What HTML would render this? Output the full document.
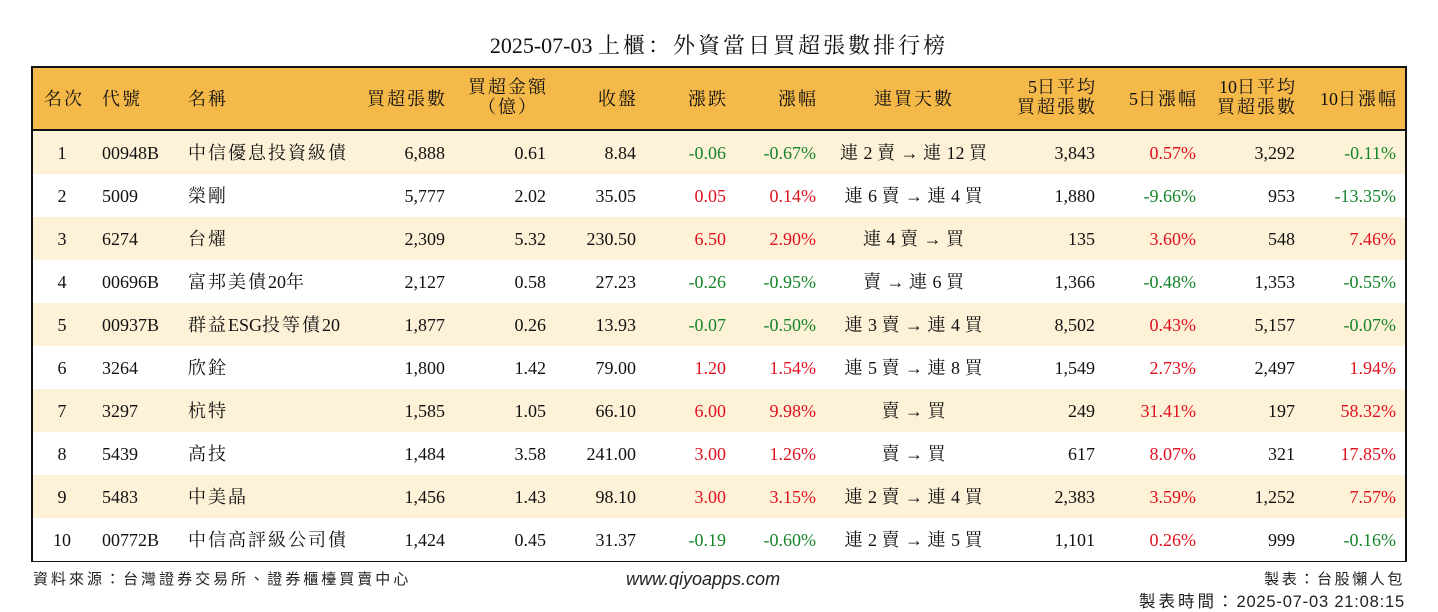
<!DOCTYPE html>
<html><head><meta charset="utf-8"><style>
body{margin:0;width:1438px;height:612px;background:#fff;position:relative;overflow:hidden;font-family:"Liberation Serif","Noto Serif CJK SC",serif;color:#111}
.t{position:absolute;white-space:nowrap;font-size:18px;line-height:20px}
#title{position:absolute;left:0;width:1438px;top:29px;text-align:center;font-size:22px}
#tbl{position:absolute;left:31px;top:66px;width:1372px;height:492px;border:2px solid #111}
#hdr{position:absolute;left:0;top:0;width:1372px;height:61px;background:#F5B94A;border-bottom:2px solid #111}
.row{position:absolute;left:0;width:1372px;height:43px}
.foot{position:absolute;font-family:"Liberation Sans","Noto Sans CJK TC",sans-serif;font-size:15px;white-space:nowrap;color:#222}
</style></head><body>
<div id="title">2025-07-03 上櫃：外資當日買超張數排行榜</div>
<div id="tbl">
<div id="hdr"></div>
</div>
<div class="foot" id="f1" style="left:33px;top:568px">資料來源：台灣證券交易所、證券櫃檯買賣中心</div>
<div class="foot" style="left:626px;top:569px;font-style:italic;font-size:18px;font-family:'Liberation Sans',sans-serif">www.qiyoapps.com</div>
<div class="foot" id="f2" style="right:33px;top:568px">製表：台股懶人包</div>
<div class="foot" id="f3" style="right:33px;top:588px;font-size:16.5px;letter-spacing:0.8px">製表時間：2025-07-03 21:08:15</div>
<script>
const ranks=["1","2","3","4","5","6","7","8","9","10"];
const codes=["00948B","5009","6274","00696B","00937B","3264","3297","5439","5483","00772B"];
const names=["中信優息投資級債","榮剛","台燿","富邦美債20年","群益ESG投等債20","欣銓","杭特","高技","中美晶","中信高評級公司債"];
const netBuy=["6,888","5,777","2,309","2,127","1,877","1,800","1,585","1,484","1,456","1,424"];
const amount=["0.61","2.02","5.32","0.58","0.26","1.42","1.05","3.58","1.43","0.45"];
const closes=["8.84","35.05","230.50","27.23","13.93","79.00","66.10","241.00","98.10","31.37"];
const changes=["-0.06","0.05","6.50","-0.26","-0.07","1.20","6.00","3.00","3.00","-0.19"];
const pcts=["-0.67%","0.14%","2.90%","-0.95%","-0.50%","1.54%","9.98%","1.26%","3.15%","-0.60%"];
const streaks=["連 2 賣 → 連 12 買","連 6 賣 → 連 4 買","連 4 賣 → 買","賣 → 連 6 買","連 3 賣 → 連 4 買","連 5 賣 → 連 8 買","賣 → 買","賣 → 買","連 2 賣 → 連 4 買","連 2 賣 → 連 5 買"];
const avg5=["3,843","1,880","135","1,366","8,502","1,549","249","617","2,383","1,101"];
const pct5=["0.57%","-9.66%","3.60%","-0.48%","0.43%","2.73%","31.41%","8.07%","3.59%","0.26%"];
const avg10=["3,292","953","548","1,353","5,157","2,497","197","321","1,252","999"];
const pct10=["-0.11%","-13.35%","7.46%","-0.55%","-0.07%","1.94%","58.32%","17.85%","7.57%","-0.16%"];
const isCJK=c=>/[\u2000-\u206f\u3000-\u9fff\uff00-\uffef]/.test(c);
function fill(el,text,ls){
  el.textContent='';
  for(const c of text){
    if(ls&&isCJK(c)){const s=document.createElement('span');s.style.letterSpacing=ls+'px';s.textContent=c;el.appendChild(s);}
    else el.appendChild(document.createTextNode(c));
  }
}
fill(document.getElementById('title'),document.getElementById('title').textContent,3);
fill(document.getElementById('f1'),document.getElementById('f1').textContent,3);
fill(document.getElementById('f2'),document.getElementById('f2').textContent,2.6);
fill(document.getElementById('f3'),document.getElementById('f3').textContent,3);
const tbl=document.getElementById('tbl');
const RED='#e0101e',GREEN='#15852a';
function col(v){return v.trim().startsWith('-')?GREEN:RED;}
function put(parent,text,x,y,align,color,name,ls){
  const d=document.createElement('div');d.className='t';
  fill(d,text,ls);
  
  
  d.style.top=y+'px';
  if(align==='r'){d.style.right=(1372-x-(ls||0))+'px';}
  else if(align==='c'){d.style.left=(x-150)+'px';d.style.width='300px';d.style.textAlign='center';}
  else d.style.left=x+'px';
  if(color)d.style.color=color;
  parent.appendChild(d);return d;
}
const hdr=document.getElementById('hdr');
const H=[["名次",11,21,'l'],["代號",69,21,'l'],["名稱",155,21,'l'],["買超張數",412,21,'r'],["收盤",603,21,'r'],["漲跌",693,21,'r'],["漲幅",783,21,'r'],["連買天數",881,21,'c'],["5日漲幅",1163,21,'r'],["10日漲幅",1363,21,'r']];
H.forEach(h=>put(hdr,h[0],h[1],h[2],h[3],null,'header-label',2));
put(hdr,"買超金額",475,9,'c',null,'header-label',2);
put(hdr,"（億）",475,29,'c',null,'header-label',2);
put(hdr,"5日平均",1062,9,'r',null,'header-label',2);
put(hdr,"買超張數",1062,29,'r',null,'header-label',2);
put(hdr,"10日平均",1262,9,'r',null,'header-label',2);
put(hdr,"買超張數",1262,29,'r',null,'header-label',2);
ranks.forEach((r,i)=>{
  const row=document.createElement('div');row.className='row';
  
  
  row.style.top=(63+i*43)+'px';
  row.style.background=i%2===0?'#FDF1D7':'#fff';
  tbl.appendChild(row);
  const y=12;
  put(row,r,29,y,'c',null,'rank-cell');
  put(row,codes[i],69,y,'l',null,'code-cell');
  put(row,names[i],155,y,'l',null,'name-cell',2);
  put(row,netBuy[i],412,y,'r',null,'net-buy-cell');
  put(row,amount[i],513,y,'r',null,'amount-cell');
  put(row,closes[i],603,y,'r',null,'close-cell');
  put(row,changes[i],693,y,'r',col(changes[i]),'change-cell');
  put(row,pcts[i],783,y,'r',col(pcts[i]),'pct-cell');
  put(row,streaks[i],881,y,'c',null,'streak-cell',1);
  put(row,avg5[i],1062,y,'r',null,'avg5-cell');
  put(row,pct5[i],1163,y,'r',col(pct5[i]),'pct5-cell');
  put(row,avg10[i],1262,y,'r',null,'avg10-cell');
  put(row,pct10[i],1363,y,'r',col(pct10[i]),'pct10-cell');
});
</script>
</body></html>
